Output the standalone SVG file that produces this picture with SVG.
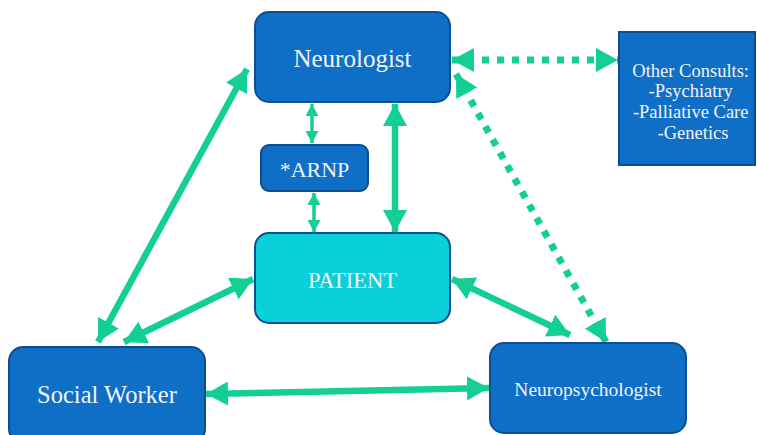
<svg xmlns="http://www.w3.org/2000/svg" width="757" height="435" viewBox="0 0 757 435">
  <style>
    .node { fill: #0F6EC6; stroke: #0B4E92; stroke-width: 2; }
    .patient { fill: #0BCFD9; stroke: #0B4E92; stroke-width: 2; }
    .label { fill: #F2F4F8; font-family: "Liberation Serif", "DejaVu Serif", serif; text-anchor: middle; }
    .link { stroke: #13CE95; stroke-width: 6.5; fill: none; }
    .thin { stroke: #13CE95; stroke-width: 3.5; fill: none; }
    .dots { stroke: #13CE95; stroke-width: 7; fill: none; stroke-dasharray: 7 8; }
  </style>
  <defs>
    <marker id="head" markerUnits="userSpaceOnUse" markerWidth="24" markerHeight="24" viewBox="0 0 24 24" refX="22" refY="12" orient="auto-start-reverse">
      <path d="M0,0 L22,12 L0,24 Z" fill="#13CE95"/>
    </marker>
    <marker id="small" markerUnits="userSpaceOnUse" markerWidth="13" markerHeight="13" viewBox="0 0 13 13" refX="12" refY="6.5" orient="auto-start-reverse">
      <path d="M0,0 L12,6.5 L0,13 Z" fill="#13CE95"/>
    </marker>
  </defs>

  <rect width="757" height="435" fill="#FFFFFF"/>

  <!-- connectors -->
  <g id="connectors">
    <line class="link" x1="247" y1="69" x2="98" y2="342" marker-start="url(#head)" marker-end="url(#head)"/>
    <line class="link" x1="253" y1="279" x2="124" y2="342" marker-start="url(#head)" marker-end="url(#head)"/>
    <line class="link" x1="206" y1="394" x2="489" y2="388" marker-start="url(#head)" marker-end="url(#head)"/>
    <line class="link" x1="452" y1="279" x2="570" y2="335" marker-start="url(#head)" marker-end="url(#head)"/>
    <line class="link" x1="395" y1="104" x2="395" y2="232" marker-start="url(#head)" marker-end="url(#head)"/>
    <line class="thin" x1="312" y1="104" x2="312" y2="143" marker-start="url(#small)" marker-end="url(#small)"/>
    <line class="thin" x1="314" y1="193" x2="314" y2="232" marker-start="url(#small)" marker-end="url(#small)"/>
    <line class="dots" x1="452" y1="60" x2="618" y2="60" marker-start="url(#head)" marker-end="url(#head)"/>
    <line class="dots" x1="456" y1="74" x2="606" y2="342" marker-start="url(#head)" marker-end="url(#head)"/>
  </g>

  <g id="neurologist">
    <rect class="node" x="255" y="12" width="195" height="90" rx="14"/>
    <text class="label" x="352.5" y="67" font-size="25">Neurologist</text>
  </g>

  <g id="other-consults">
    <rect class="node" x="619" y="32" width="136" height="133"/>
    <text class="label" font-size="18.5">
      <tspan x="693" y="77">Other Consults:</tspan>
      <tspan x="693" y="97">-Psychiatry</tspan>
      <tspan x="693" y="118">-Palliative Care</tspan>
      <tspan x="693" y="139">-Genetics</tspan>
    </text>
  </g>

  <g id="arnp">
    <rect class="node" x="261" y="145" width="107" height="46" rx="8"/>
    <text class="label" x="314.5" y="177" font-size="22">*ARNP</text>
  </g>

  <g id="patient">
    <rect class="patient" x="255" y="233" width="195" height="90" rx="14"/>
    <text class="label" x="352.5" y="288" font-size="22.5">PATIENT</text>
  </g>

  <g id="social-worker">
    <rect class="node" x="9" y="347" width="196" height="96" rx="14"/>
    <text class="label" x="107" y="403" font-size="24.5">Social Worker</text>
  </g>

  <g id="neuropsychologist">
    <rect class="node" x="490" y="343" width="196" height="90" rx="14"/>
    <text class="label" x="588" y="396" font-size="19.5">Neuropsychologist</text>
  </g>
</svg>
